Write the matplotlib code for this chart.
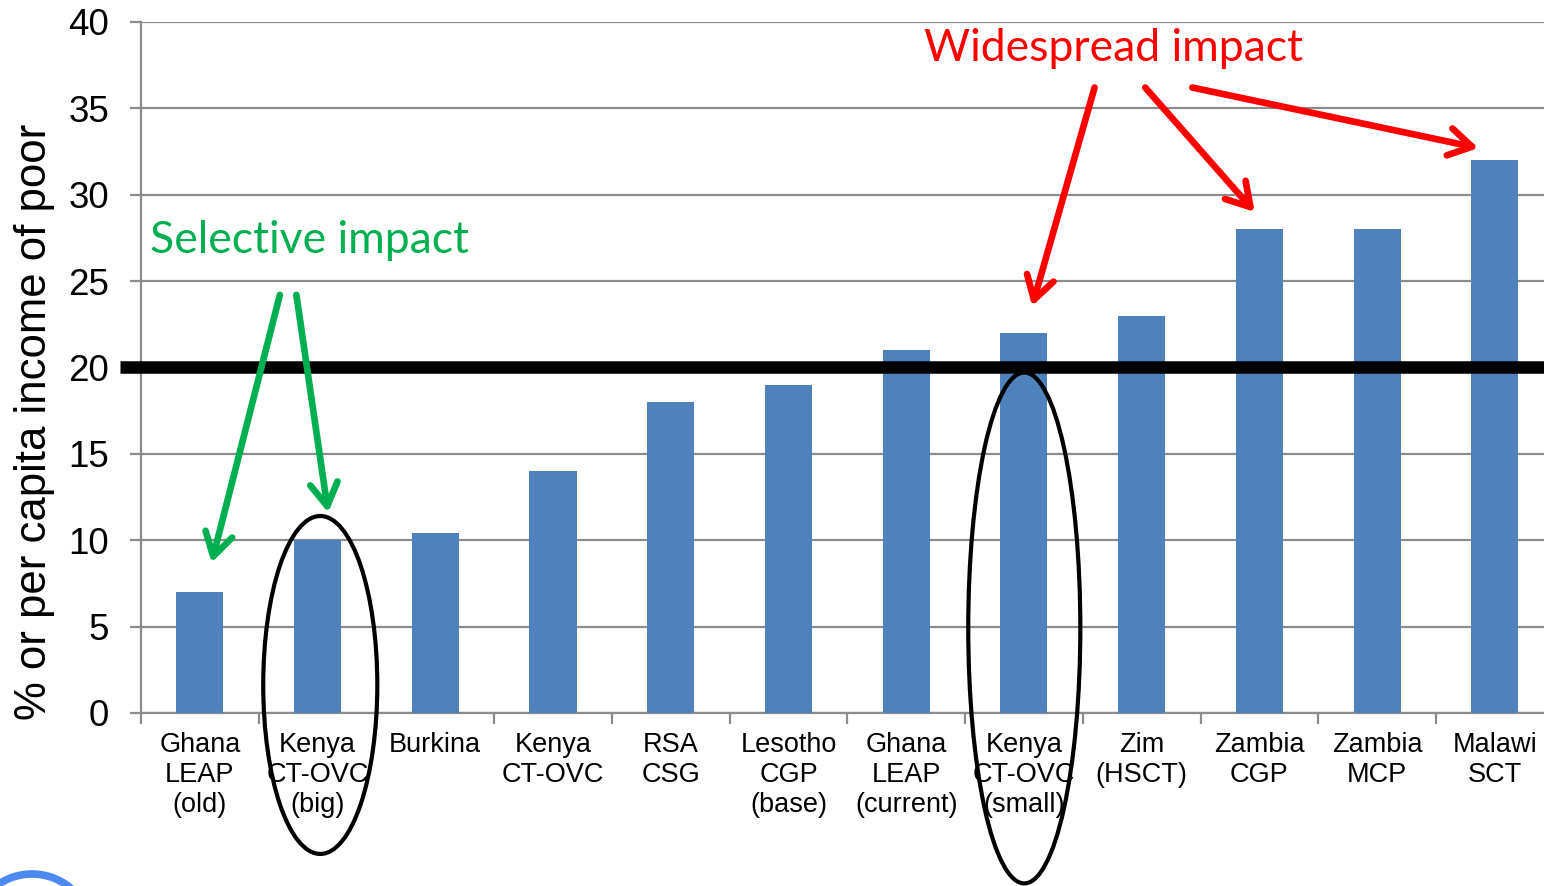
import numpy as np
import matplotlib.pyplot as plt
from matplotlib.patches import Ellipse, Circle

programmes = ["Ghana\nLEAP\n(old)", "Kenya\nCT-OVC\n(big)", "Burkina", "Kenya\nCT-OVC",
              "RSA\nCSG", "Lesotho\nCGP\n(base)", "Ghana\nLEAP\n(current)",
              "Kenya\nCT-OVC\n(small)", "Zim\n(HSCT)", "Zambia\nCGP", "Zambia\nMCP",
              "Malawi\nSCT"]
pct_income = [7, 10, 10.4, 14, 18, 19, 21, 22, 23, 28, 28, 32]
threshold = 20

plt.rcParams['font.family'] = ['Liberation Sans', 'DejaVu Sans']

fig = plt.figure(figsize=(15.44, 8.86), dpi=100)
ax = fig.add_axes([0.0913, 0.1953, 0.915, 0.780])

x = np.arange(len(programmes))
ax.bar(x, pct_income, width=0.4, color='#4F81BD', zorder=3)

ax.set_ylim(0, 40)
ax.set_xlim(-0.5, len(programmes) - 0.5)
ax.set_yticks(np.arange(0, 41, 5))
ax.yaxis.grid(True, color='#8c8c8c', lw=1.6, zorder=0)
ax.set_axisbelow(True)
for s in ['top', 'right']:
    ax.spines[s].set_visible(False)
for s in ['left', 'bottom']:
    ax.spines[s].set_color('#8c8c8c')
    ax.spines[s].set_linewidth(1.6)

ax.tick_params(axis='y', labelsize=26.5, length=8, width=1.6, color='#8c8c8c', pad=15)
ax.set_xticks(x)
ax.set_xticklabels(programmes, fontsize=19.5, linespacing=1.2)
ax.tick_params(axis='x', which='major', length=0, pad=14)
ax.set_xticks(np.arange(-0.5, len(programmes), 1), minor=True)
ax.tick_params(axis='x', which='minor', length=8, width=1.6, color='#8c8c8c')

ax.set_ylabel('% or per capita income of poor', fontsize=31.5)
ax.yaxis.set_label_coords(-0.061, 0.421)

# 20% threshold line
ax.plot([-0.68, len(programmes)], [threshold, threshold], color='black', lw=9,
        solid_capstyle='butt', clip_on=False, zorder=5)

# annotations
cal = ['Lato', 'DejaVu Sans']
ax.text(-0.424, 27.35, 'Selective impact', color='#00B050', fontsize=32,
        family=cal, va='center', ha='left')
ax.text(7.76, 38.45, 'Widespread impact', color='#FF0000', fontsize=32,
        family=cal, va='center', ha='center')

arrow = dict(arrowstyle='->,head_length=0.75,head_width=0.45', lw=4.8,
             mutation_scale=22, shrinkA=0, shrinkB=0)
green_arrows = [((0.68, 24.2), (0.10, 8.7)), ((0.82, 24.2), (1.09, 11.6))]
red_arrows = [((7.60, 36.2), (7.07, 23.55)), ((8.03, 36.2), (8.96, 29.0)),
              ((8.43, 36.2), (10.86, 32.7))]
for tail, head in green_arrows:
    ax.annotate('', xy=head, xytext=tail,
                arrowprops=dict(arrow, color='#00B050'), zorder=6)
for tail, head in red_arrows:
    ax.annotate('', xy=head, xytext=tail,
                arrowprops=dict(arrow, color='#FF0000'), zorder=6)

for cx, cy, w, h in [(1.023, 1.62, 0.969, 19.56), (7.003, 4.92, 0.952, 29.57)]:
    ax.add_patch(Ellipse((cx, cy), w, h, fill=False, ec='black', lw=3.0,
                         clip_on=False, zorder=7))

# partial logo ring at bottom-left corner
fig.patches.append(Circle((0.32, -0.48), 0.60, transform=fig.dpi_scale_trans,
                          fill=False, ec='#4d8af0', lw=5.5))

fig.savefig('out.png', dpi=100)
